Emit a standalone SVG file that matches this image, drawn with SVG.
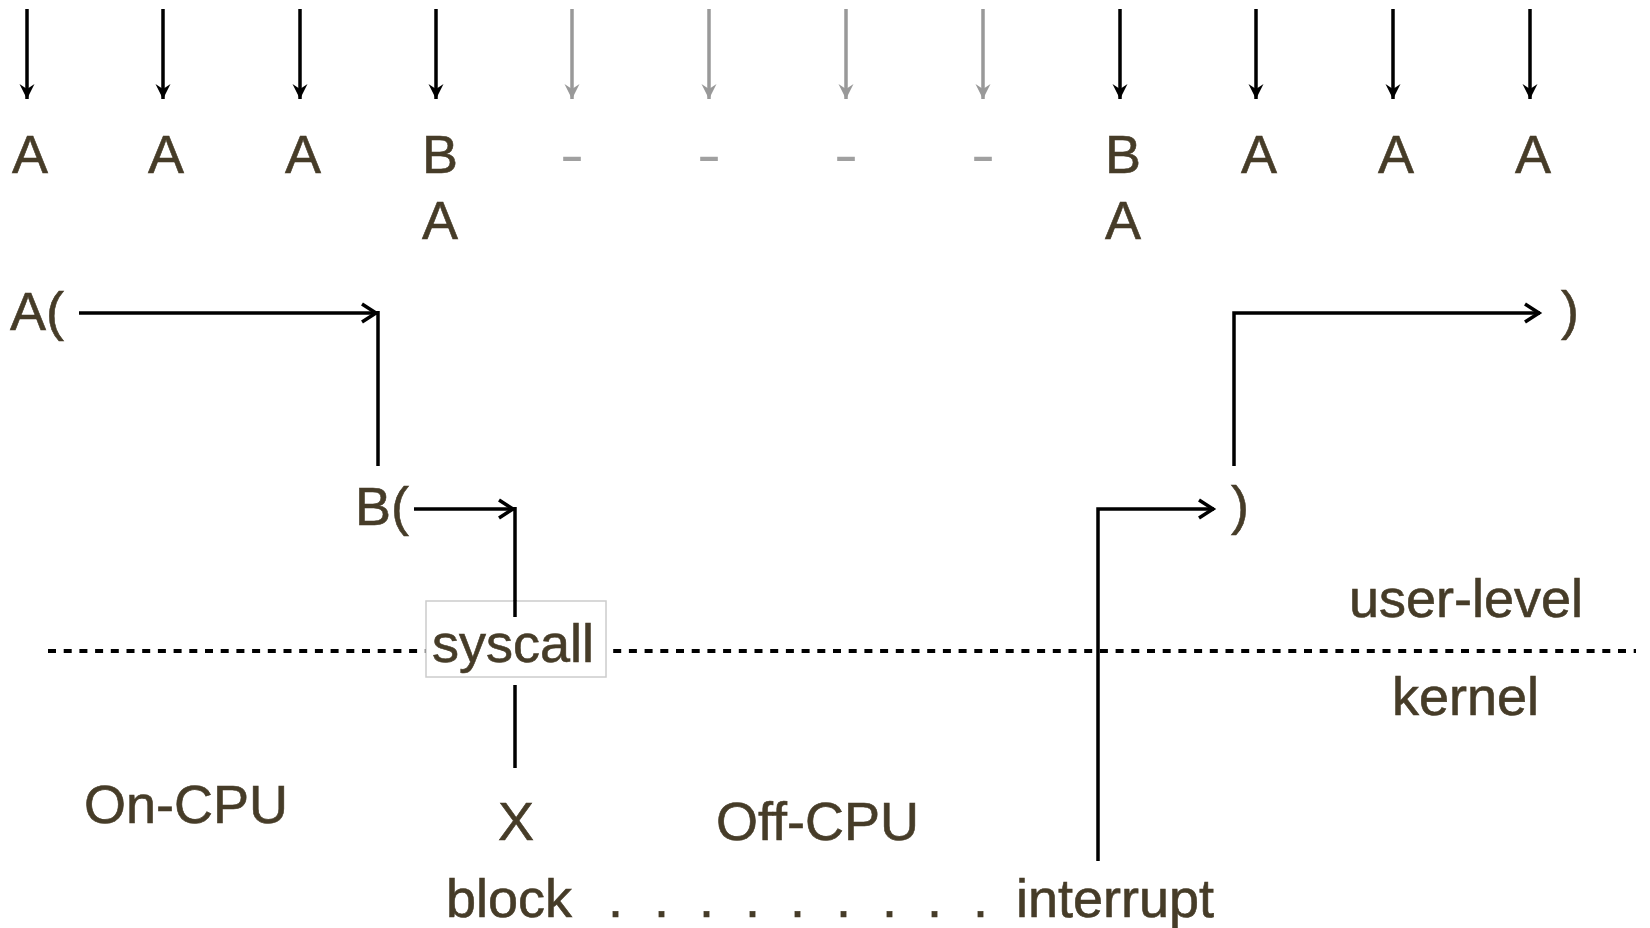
<svg xmlns="http://www.w3.org/2000/svg" width="1650" height="928" viewBox="0 0 1650 928">
<style>
text{font-family:"Liberation Sans",Arial,sans-serif;font-size:54px;fill:#463c28;stroke:#463c28;stroke-width:0.6}
.mid{text-anchor:middle}
.gt{fill:#a0a0a0;stroke:none}
.ln{stroke:#000;stroke-width:3.5;fill:none}
.ga{stroke:#999;stroke-width:3.5;fill:none}
</style>
<defs>
<marker id="down" markerWidth="18" markerHeight="18" refX="15" refY="8" orient="auto" markerUnits="userSpaceOnUse">
<path d="M15,8 L0,0.5 L5,8 L0,15.5 Z" fill="#000"/>
</marker>
<marker id="downg" markerWidth="18" markerHeight="18" refX="15" refY="8" orient="auto" markerUnits="userSpaceOnUse">
<path d="M15,8 L0,0.5 L5,8 L0,15.5 Z" fill="#999"/>
</marker>
<marker id="open" markerWidth="22" markerHeight="24" refX="17" refY="11" orient="auto" markerUnits="userSpaceOnUse">
<path d="M2,2 L16,11 L2,20" fill="none" stroke="#000" stroke-width="3.5"/>
</marker>
</defs>
<g id="connectors">
<line class="ln" x1="27" y1="9" x2="27" y2="99" marker-end="url(#down)"/>
<line class="ln" x1="163" y1="9" x2="163" y2="99" marker-end="url(#down)"/>
<line class="ln" x1="300" y1="9" x2="300" y2="99" marker-end="url(#down)"/>
<line class="ln" x1="436" y1="9" x2="436" y2="99" marker-end="url(#down)"/>
<line class="ga" x1="572" y1="9" x2="572" y2="99" marker-end="url(#downg)"/>
<line class="ga" x1="709" y1="9" x2="709" y2="99" marker-end="url(#downg)"/>
<line class="ga" x1="846" y1="9" x2="846" y2="99" marker-end="url(#downg)"/>
<line class="ga" x1="983" y1="9" x2="983" y2="99" marker-end="url(#downg)"/>
<line class="ln" x1="1120" y1="9" x2="1120" y2="99" marker-end="url(#down)"/>
<line class="ln" x1="1256" y1="9" x2="1256" y2="99" marker-end="url(#down)"/>
<line class="ln" x1="1393" y1="9" x2="1393" y2="99" marker-end="url(#down)"/>
<line class="ln" x1="1530" y1="9" x2="1530" y2="99" marker-end="url(#down)"/>
<line x1="48" y1="651" x2="1636" y2="651" stroke="#000" stroke-width="4" stroke-dasharray="8 7.7"/>
<line class="ln" x1="79" y1="313" x2="377" y2="313" marker-end="url(#open)"/>
<line class="ln" x1="378" y1="311" x2="378" y2="466"/>
<line class="ln" x1="414" y1="509" x2="514" y2="509" marker-end="url(#open)"/>
<line class="ln" x1="515" y1="507" x2="515" y2="617"/>
<line class="ln" x1="515" y1="685" x2="515" y2="768"/>
<polyline class="ln" points="1098,861 1098,509 1214,509" marker-end="url(#open)"/>
<polyline class="ln" points="1234,466 1234,313 1540,313" marker-end="url(#open)"/>
</g>
<g id="samples">
<text class="mid" x="30" y="173">A</text>
<text class="mid" x="166" y="173">A</text>
<text class="mid" x="303" y="173">A</text>
<text class="mid" x="440" y="173">B</text>
<text class="mid" x="440" y="239">A</text>
<text class="gt" x="560" y="173" textLength="24" lengthAdjust="spacingAndGlyphs">-</text>
<text class="gt" x="697" y="173" textLength="24" lengthAdjust="spacingAndGlyphs">-</text>
<text class="gt" x="834" y="173" textLength="24" lengthAdjust="spacingAndGlyphs">-</text>
<text class="gt" x="971" y="173" textLength="24" lengthAdjust="spacingAndGlyphs">-</text>
<text class="mid" x="1123" y="173">B</text>
<text class="mid" x="1123" y="239">A</text>
<text class="mid" x="1259" y="173">A</text>
<text class="mid" x="1396" y="173">A</text>
<text class="mid" x="1533" y="173">A</text>
</g>
<g id="node-A-call"><text x="10" y="330">A(</text></g>
<g id="node-B-call"><text x="355" y="525">B(</text></g>
<g id="node-syscall">
<rect x="426" y="601" width="180" height="76" fill="#fff" stroke="#cccccc" stroke-width="1.5"/>
<line class="ln" x1="515" y1="600" x2="515" y2="617"/>
<text x="432" y="662">syscall</text>
</g>
<g id="node-X"><text class="mid" x="516" y="840">X</text></g>
<g id="node-B-return"><text x="1231" y="524">)</text></g>
<g id="node-A-return"><text x="1561" y="329">)</text></g>
<g id="labels">
<text x="1349" y="617">user-level</text>
<text x="1392" y="715">kernel</text>
<text x="84" y="823">On-CPU</text>
<text x="716" y="840">Off-CPU</text>
<text y="917"><tspan x="446">block</tspan><tspan x="593"> .</tspan><tspan x="654">.</tspan><tspan x="699">.</tspan><tspan x="745">.</tspan><tspan x="790">.</tspan><tspan x="836">.</tspan><tspan x="882">.</tspan><tspan x="927">.</tspan><tspan x="973">.</tspan><tspan x="1001"> interrupt</tspan></text>
</g>
</svg>
